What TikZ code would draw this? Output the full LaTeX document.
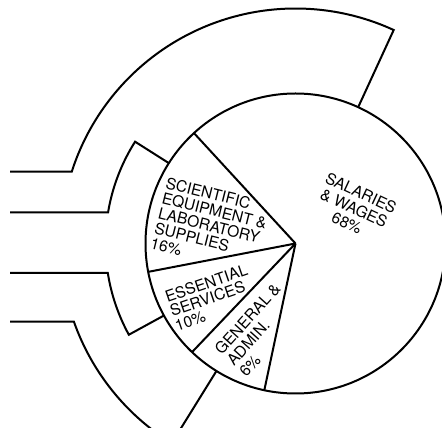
\documentclass[tikz,border=0pt]{standalone}
\usepackage{fontspec}
\setmainfont{TeX Gyre Heros}
\begin{document}
\begin{tikzpicture}[x=1pt,y=1pt,
  rim/.style={line width=2pt, line join=miter},
  lbl/.style={inner sep=0pt, font=\fontsize{15.6}{#1}\selectfont},
  lbl/.default=15.6]
\useasboundingbox (0,0) rectangle (442,428);
\clip (0,0) rectangle (442,428);
\coordinate (C) at (295.5,184.5);
\coordinate (L) at (10,0);
% pie and its slice boundaries
\draw[rim] (C) circle[radius=150];
\foreach \a in {132.6,190.9,226.4,258}
  \draw[rim] (C) -- ([shift={(\a:150)}]C);
% outer band
\draw[rim] ([shift={(65.3:150)}]C) -- ([shift={(65.3:235)}]C)
  arc[start angle=65.3, end angle=162.2, radius=235] coordinate (o1) -- (o1 -| L);
\draw[rim] ([shift={(238.2:150)}]C) -- ([shift={(238.2:235)}]C)
  arc[start angle=238.2, end angle=199.4, radius=235] coordinate (o2) -- (o2 -| L);
% middle band
\draw[rim] ([shift={(147.6:150)}]C) -- ([shift={(147.6:190)}]C)
  arc[start angle=147.6, end angle=170.6, radius=190] coordinate (m1) -- (m1 -| L);
\draw[rim] ([shift={(208.7:150)}]C) -- ([shift={(208.7:190)}]C)
  arc[start angle=208.7, end angle=188.9, radius=190] coordinate (m2) -- (m2 -| L);
% slice labels
\node[lbl, align=left, anchor=north west, rotate=-14] (sci) at (167.5,251.5)
  {SCIENTIFIC\\EQUIPMENT \&\\LABORATORY\\SUPPLIES\\16\%};
\node[lbl=16.5, align=center, rotate=-25] (sal) at (354,220)
  {SALARIES\\\& WAGES\\68\%};
\node[lbl=15, align=left, anchor=north west, rotate=19] (ess) at (163.5,136.5)
  {ESSENTIAL\\SERVICES\\10\%};
\node[lbl=16.5, align=left, anchor=north west, rotate=48] (gen) at (213,80)
  {GENERAL \&\\ADMIN.\\6\%};
\end{tikzpicture}
\end{document}
